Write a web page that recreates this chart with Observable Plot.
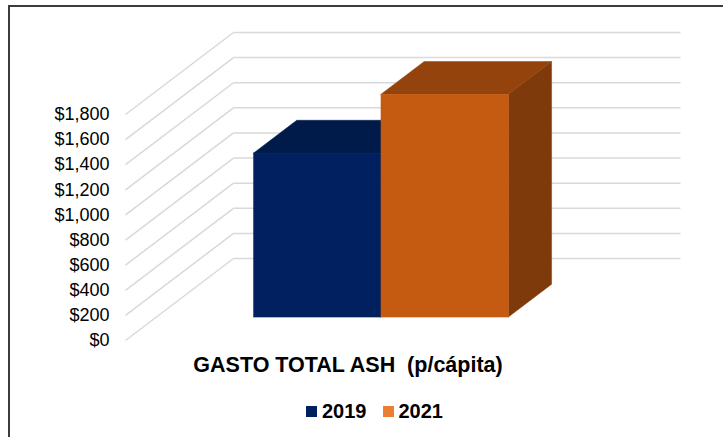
<!DOCTYPE html>
<html>
<head>
<meta charset="utf-8">
<script src="https://cdn.jsdelivr.net/npm/d3@7"></script>
<script src="https://cdn.jsdelivr.net/npm/@observablehq/plot@0.6"></script>
<style>
  html, body { margin: 0; padding: 0; background: #fff; }
  #wrap { position: relative; width: 723px; height: 437px; overflow: hidden; font-family: "Liberation Sans", Arial, sans-serif; }
  #frame { position: absolute; left: 8px; top: 5px; width: 715px; height: 432px; border-top: 2px solid #3c3c3c; border-left: 2px solid #3c3c3c; box-sizing: border-box; pointer-events: none; }
  #chart svg { display: block; }
  #title { width: 696px; text-align: center; font-weight: bold; font-size: 21.5px; line-height: 24px; margin-top: 3px; color: #000; white-space: pre; }
  #legend { padding-left: 306px; margin-top: 22px; font-weight: bold; font-size: 20px; line-height: 24px; color: #000; display: flex; align-items: center; }
  #legend .sw { display: inline-block; width: 11px; height: 11px; margin-right: 5px; }
  #legend .item { display: inline-flex; align-items: center; margin-right: 16px; }
</style>
</head>
<body>
<div id="wrap">
  <div id="chart"></div>
  <div id="title"></div>
  <div id="legend"></div>
  <div id="frame"></div>
</div>
<script>
// ---- data ----
const categories = ["2019", "2021"];
const values = [1306, 1774];
const frontColors = ["#002060", "#C55A11"];
const topColors = ["#001A4A", "#94430C"];
const sideColors = ["#00153D", "#7E3A0A"];
const legendColors = ["#002060", "#ED7D31"];
const yTicks = [0, 200, 400, 600, 800, 1000, 1200, 1400, 1600, 1800];
const titleText = "GASTO TOTAL ASH  (p/cápita)";

// ---- 3D projection helpers (depth expressed in scale units) ----
const DX = 0.2416;   // x-units shift for full floor depth
const DV = 653;      // value-units shift for full floor depth
const barStart = 0.22, barWidth = 0.285;
const d0 = 0.28, d1 = 0.68;

const bars = categories.map((c, i) => ({
  cat: c, value: values[i],
  xl: barStart + i * barWidth, xr: barStart + (i + 1) * barWidth,
  front: frontColors[i], top: topColors[i], side: sideColors[i]
}));

const fronts = bars.map(b => ({
  cat: b.cat, fill: b.front,
  x1: b.xl + d0 * DX, x2: b.xr + d0 * DX,
  y1: d0 * DV, y2: b.value + d0 * DV
}));
const tops = bars.flatMap(b => [d0, d1].map(d => ({
  cat: b.cat, fill: b.top,
  y: b.value + d * DV, x1: b.xl + d * DX, x2: b.xr + d * DX
})));
const sides = bars.flatMap(b => [d0, d1].map(d => ({
  cat: b.cat, fill: b.side,
  x: b.xr + d * DX, y1: d * DV, y2: b.value + d * DV
})));
const backGrid = yTicks.map(t => ({x1: DX, x2: 1 + DX, y1: t + DV, y2: t + DV}));
const sideGrid = yTicks.map(t => ({x1: 0, x2: DX, y1: t, y2: t + DV}));

const layers = [];
bars.forEach((b, i) => {
  const s = sides.filter(d => d.cat === b.cat);
  const t = tops.filter(d => d.cat === b.cat);
  const f = fronts.filter(d => d.cat === b.cat);
  layers.push(Plot.areaY(s, {x: "x", y1: "y1", y2: "y2", fill: "fill", stroke: "fill", strokeWidth: 0.5}));
  layers.push(Plot.areaX(t, {y: "y", x1: "x1", x2: "x2", fill: "fill", stroke: "fill", strokeWidth: 0.5}));
  layers.push(Plot.rect(f, {x1: "x1", x2: "x2", y1: "y1", y2: "y2", fill: "fill", stroke: "fill", strokeWidth: 0.5}));
});

const chart = Plot.plot({
  width: 723,
  height: 350,
  marginLeft: 125,
  marginRight: 151,
  marginTop: 114,
  marginBottom: 10,
  style: {fontFamily: "'Liberation Sans', Arial, sans-serif", fontSize: "18px", color: "#000", background: "transparent", overflow: "visible"},
  x: {domain: [0, 1], axis: null},
  y: {domain: [0, 1800]},
  color: {type: "identity"},
  marks: [
    Plot.link(backGrid, {x1: "x1", x2: "x2", y1: "y1", y2: "y2", stroke: "#d9d9d9", strokeWidth: 1.5}),
    Plot.link(sideGrid, {x1: "x1", x2: "x2", y1: "y1", y2: "y2", stroke: "#d9d9d9", strokeWidth: 1.5}),
    Plot.axisY(yTicks, {tickSize: 0, tickPadding: 16, tickFormat: d3.format("$,"), label: null, fill: "#000"}),
    ...layers
  ]
});
document.getElementById("chart").appendChild(chart);

document.getElementById("title").textContent = titleText;
const legend = document.getElementById("legend");
categories.forEach((c, i) => {
  const item = document.createElement("span");
  item.className = "item";
  const sw = document.createElement("span");
  sw.className = "sw";
  sw.style.background = legendColors[i];
  item.appendChild(sw);
  item.appendChild(document.createTextNode(c));
  legend.appendChild(item);
});
</script>
</body>
</html>
